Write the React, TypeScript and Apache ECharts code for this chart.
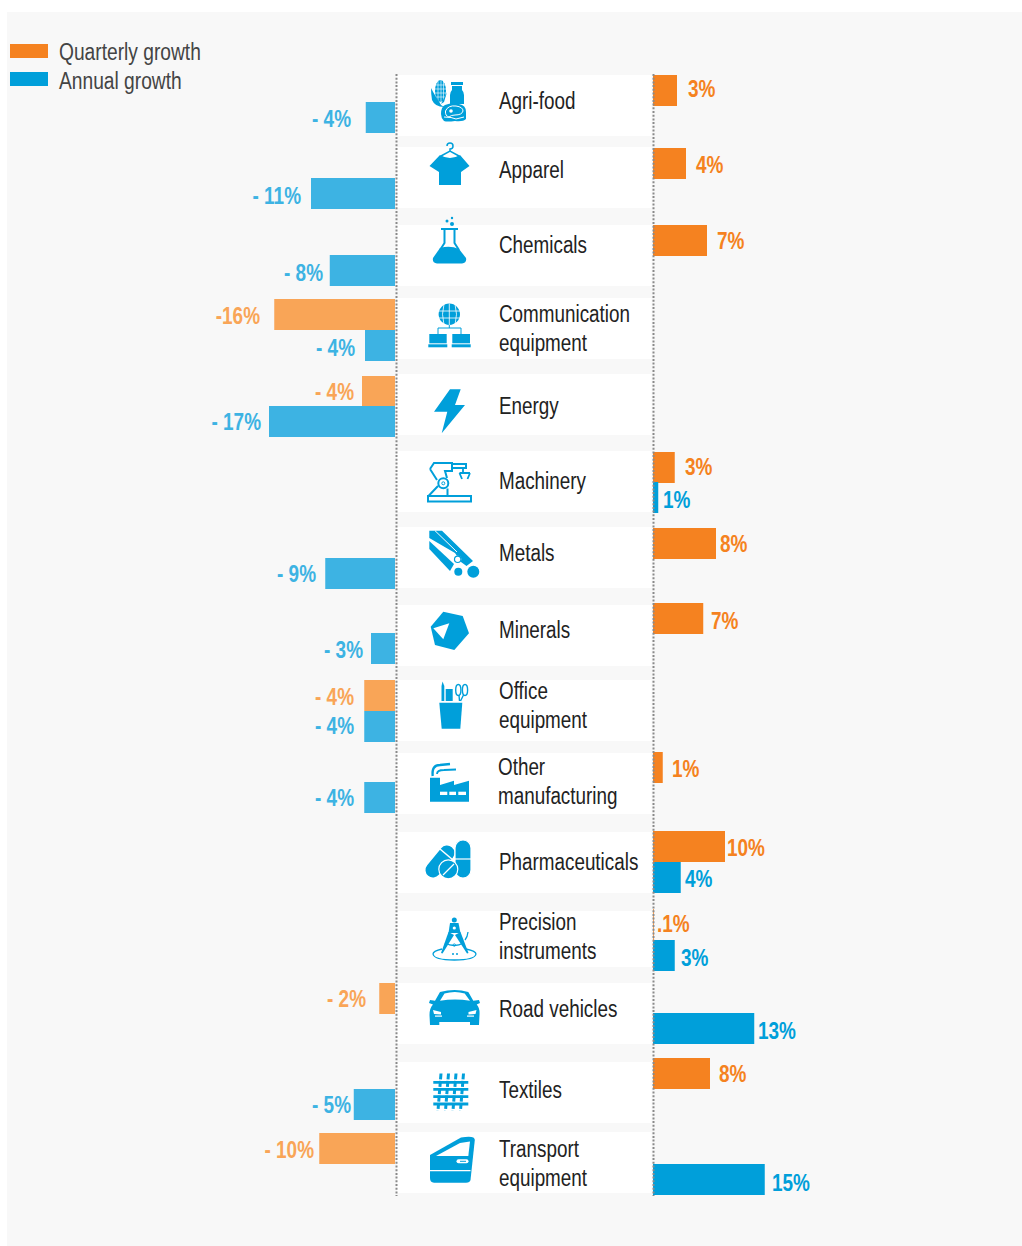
import React, { useEffect, useRef } from "react";
import * as echarts from "echarts";

// ---- data ----
const categories = [
  "Agri-food", "Apparel", "Chemicals", "Communication\nequipment", "Energy", "Machinery", "Metals", "Minerals",
  "Office\nequipment", "Other\nmanufacturing", "Pharmaceuticals", "Precision\ninstruments", "Road vehicles", "Textiles", "Transport\nequipment",
];
const quarterlyGrowth = [3.2, 4.4, 7.2, -16.1, -4.4, 2.9, 8.4, 6.7, -4.1, 1.3, 9.6, 0.1, -2.1, 7.6, -10.1];
const annualGrowth = [-3.9, -11.2, -8.7, -4, -16.8, 0.7, -9.3, -3.2, -4.1, -4.1, 3.7, 2.9, 13.5, -5.5, 14.9];
const quarterlyLabels = ["3%", "4%", "7%", "-16%", "- 4%", "3%", "8%", "7%", "- 4%", "1%", "10%", ".1%", "- 2%", "8%", "- 10%"];
const annualLabels = ["- 4%", "- 11%", "- 8%", "- 4%", "- 17%", "1%", "- 9%", "- 3%", "- 4%", "- 4%", "4%", "3%", "13%", "- 5%", "15%"];
const seriesNames = ["Quarterly growth", "Annual growth"];

// ---- layout (page pixels) ----
const rowTop = [75, 147, 225, 298, 374, 451, 527, 605, 680, 753, 832, 911, 983, 1062, 1132];
const rowHeight = [61, 61, 61, 61, 61, 61, 61, 61, 61, 61, 61, 56, 61, 61, 61];
const quarterlyBarTop = [75, 148, 225, 299, 376, 452, 528, 603, 680, 752, 831, 909, 983, 1058, 1133];
const annualBarTop = [102, 178, 255, 330, 406, 482, 558, 633, 711, 782, 862, 940, 1013, 1089, 1164];
const quarterlyLabelX = [688, 696, 717, 260, 354, 685, 720, 711, 354, 672, 727, 657, 366, 719, 314];
const quarterlyLabelY = [89, 165, 241, 316, 392, 467, 544, 621, 697, 769, 848, 924, 999, 1074, 1150];
const annualLabelX = [351, 301, 323, 355, 261, 663, 316, 363, 354, 354, 685, 681, 758, 351, 772];
const annualLabelY = [119, 196, 273, 348, 422, 500, 574, 650, 726, 798, 879, 958, 1031, 1105, 1183];
const categoryX = [499, 499, 499, 499, 499, 499, 499, 499, 499, 498, 499, 499, 499, 499, 499];
const categoryY = [101, 170, 245, 328, 406, 481, 553, 630, 705, 781, 862, 936, 1009, 1090, 1163];

const BAR_H = 31;
const ORANGE = "#F58220";
const BLUE = "#009FDA";
const ORANGE_L = "#F9A557";
const BLUE_L = "#3DB3E3";
const FONT = '"Liberation Sans", sans-serif';
const NARROW_SCALE = 0.82;
const LABEL_SCALE = 0.79;
const LEGEND_SCALE = 0.835;

// ---- icons ----
const circ = (cx: number, cy: number, r: number, ry: number = r) =>
  `M${cx - r} ${cy}A${r} ${ry} 0 1 0 ${cx + r} ${cy}A${r} ${ry} 0 1 0 ${cx - r} ${cy}Z`;
const rectP = (x: number, y: number, w: number, h: number) => `M${x} ${y}L${x + w} ${y}L${x + w} ${y + h}L${x} ${y + h}Z`;

type Part = [string, string, number?];
const icons: Part[][] = [
  // agri-food
  [
    [circ(440.5, 91, 5.5, 11), "b"],
    ["M436 85L445 85M435 89L446 89M435 93L446 93M436 97L445 97M438 81L438 102M441 80L441 102M443.5 81L443.5 102", "sw", 0.6],
    ["M431 88Q433 92 436 97Q439 101 441 105L444 107Q435 107 432 100Q431 94 431 88Z", "b"],
    ["M447 92L444 102L441 104Q445 96 447 92Z", "b"],
    [rectP(451, 82, 12, 3), "b"],
    ["M452 86L462 86L462 90Q464 92 464 95L464 104L450 104L450 95Q450 92 452 90Z", "b"],
    ["M445 105Q452 102 459 104Q466 105 466 112L466 119Q463 122 455 121Q447 122 444 121Q441 118 441 114Q441 107 445 105Z", "b"],
    ["M445.5 111Q448 105 456 106Q463 107 463 111Q462 115 455 115Q451 115 449 117Q445 116 445.5 111Z", "sw", 1],
    [circ(451, 111, 1.8), "w"],
    ["M444 117Q452 117 456 119L464 117", "sw", 1],
  ],
  // apparel
  [
    ["M440 155Q450 161 460 155L469.5 166L461 172L461 185L439 185L439 172L429.5 166Z", "b"],
    ["M447 146A3 3 0 1 1 450 149L450 151M441 156L450 151L459 156", "s", 1.5],
  ],
  // chemicals
  [
    [circ(447, 221, 1.5), "b"],
    [circ(452, 218, 1.2), "b"],
    [circ(452, 224, 2), "b"],
    ["M441 229L458 229", "s", 2],
    ["M444.5 229L444.5 243L440 250M454.5 229L454.5 243L459 250", "s", 2],
    ["M440 248Q450 245 459 249L466 258Q467 263 462 263.5L437 263.5Q432 263 433 258Z", "b"],
  ],
  // communication equipment
  [
    [circ(449.3, 314.3, 10.7), "b"],
    ["M438.6 311L460 311M438.6 318L460 318M449.3 303.6L449.3 325M444 304Q441 314 444 325M455 304Q458 314 455 325", "sw", 0.8],
    ["M449.3 325L449.3 328M438 334L438 328L461 328L461 334", "s", 1],
    [rectP(429.3, 334, 17.4, 9.3), "b"],
    [rectP(428.3, 344.3, 19, 3), "b"],
    [rectP(452.3, 334, 17.7, 9.3), "b"],
    [rectP(451.7, 344.3, 19, 3), "b"],
  ],
  // energy
  [["M450 389.3L460.7 389.3L455 405L465 405L441.7 433.3L447.3 411.7L434 411.7Z", "b"]],
  // machinery
  [
    [rectP(428, 496, 43, 5.5), "s", 2],
    ["M430 469L434 463L452 463L452 471L445 471L447 478M430 469L437 480", "s", 2],
    ["M452 464L466 464L466 468L452 468", "s", 2],
    [circ(443.3, 483.3, 5), "s", 2],
    [circ(443.3, 483.3, 1.5), "s", 1],
    ["M428.5 496L438 486M447.5 488.5L447.5 496", "s", 2],
    ["M463 468L463 472M459.5 473L470 473M459.5 473L462 479M470 473L467.5 479", "s", 1.8],
  ],
  // metals
  [
    ["M429.3 541L454 564L450 571L429.3 549Z", "b"],
    ["M429.3 530.7L442 530.7L473 561L466.5 566L461 562L455 553L429.3 538Z", "b"],
    ["M435 530.7L457 552", "sw", 1],
    [circ(473.3, 571.7, 6), "b"],
    [circ(458.3, 571.7, 4), "b"],
    [circ(457.7, 559.3, 3.6), "w"],
    [circ(457.7, 559.3, 3.2), "s", 1.2],
  ],
  // minerals
  [
    ["M443.3 611.7L462.7 616L469 633.3L454.3 650L435 645L430.7 626.7Z", "b"],
    ["M449.3 623.3L433.3 628.3L443.3 639.3Z", "w"],
  ],
  // office equipment
  [
    ["M439.3 702.7L462.3 702.7L460.3 728.7L441.7 728.7Z", "b"],
    ["M441.5 701L441.5 686L442.5 681.5L444.3 686L444.3 701Z", "b"],
    [rectP(445.7, 689, 7, 12), "b"],
    [circ(458.3, 690, 2.6, 5.5), "s", 1.4],
    [circ(465, 690, 2.6, 5.5), "s", 1.4],
    ["M459 695L459.5 701M463.5 695L460.5 701", "s", 1.4],
  ],
  // other manufacturing
  [
    ["M430 777.7L440 777.7L440 785L454 780.7L454 785L469 780.7L469 801.7L430 801.7Z", "b"],
    [rectP(440, 791.7, 7.3, 3.3), "w"],
    [rectP(449.3, 791.7, 6.7, 3.3), "w"],
    [rectP(458.3, 791.7, 7.7, 3.3), "w"],
    ["M432.7 776Q431.5 765 440 765L450 764", "s", 2.4],
    ["M437 774Q437 770 444 770L456 769.5", "s", 1.8],
  ],
  // pharmaceuticals
  [
    ["M447 853L433 870", "s2", 15],
    ["M440 849L453 860", "sw", 1.5],
    ["M455 848A8 8 0 0 1 471 848L471 870A8 8 0 0 1 455 870Z", "b"],
    ["M455 848A8 8 0 0 1 471 848L471 870A8 8 0 0 1 455 870Z", "sw", 1.2],
    ["M455 859L471 859", "sw", 1.2],
    [circ(448.3, 869.3, 9.5), "b"],
    [circ(448.3, 869.3, 9.5), "sw", 1.2],
    ["M443 875L454 864", "sw", 1.2],
  ],
  // precision instruments
  [
    [circ(454.3, 920, 2.5), "b"],
    ["M450 923L458.5 923L460.5 933L448.5 933Z", "b"],
    ["M448.5 932L454 935L442.5 953.5L441 953Z", "b"],
    ["M460.5 932L455 935L467 953.5L468.5 953Z", "b"],
    ["M445 943Q454.3 948 463.5 943", "s", 1.3],
    [circ(454.3, 928, 1.6), "w"],
    [circ(454.3, 945, 1.2), "s", 0.8],
    ["M468 932Q467.5 937 465 940", "s", 1.3],
    ["M442 949Q433 951 433 954Q434 960 454.3 960Q475 960 476 954Q476 951 466 949", "s", 1.3],
    ["M452 954L454 954M456 954L458 954", "s", 1.4],
  ],
  // road vehicles
  [
    ["M440 992Q455 988 468.3 992L473.3 1000.7L479 1000L480 1003L476.7 1004.5Q480 1008 479.5 1015L479 1025L470 1025L470 1022L439.3 1022L439.3 1025L430 1025L429.5 1015Q429.5 1008 433 1004.5L429 1003L430 1000L435 1000.7Z", "b"],
    ["M440 1000.7L444.5 993.5Q455 990.5 464.7 993.5L470 1000.7Q455 998.5 440 1000.7Z", "w"],
    ["M433 1010L441 1012L441 1014.5L434 1014Z", "w"],
    ["M476.5 1010L468.5 1012L468.5 1014.5L475.5 1014Z", "w"],
    [rectP(435, 1015.5, 7, 1.2), "w"],
    [rectP(467, 1015.5, 7, 1.2), "w"],
  ],
  // textiles
  [
    ["M433.3 1082.3L468.3 1082.3M433.3 1089.3L468.3 1089.3M433.3 1096.7L468.3 1096.7M433.3 1104L468.3 1104", "s", 2.8],
    ["M441 1073.5L438 1110.5M448.5 1073.5L445.5 1110.5M456 1073.5L453 1110.5M463.5 1073.5L460.5 1110.5", "d", 3],
  ],
  // transport equipment
  [
    ["M430 1155L461 1137.5Q475 1135 474.8 1140L470.5 1180Q470 1182.5 466 1182.7L434 1182.7Q430 1182.5 430 1178Z", "b"],
    ["M436 1156L460 1143L470 1141.5L468.3 1156Z", "w"],
    ["M458.5 1159.3L466.5 1159.3A2 2 0 0 1 466.5 1163.3L458.5 1163.3A2 2 0 0 1 458.5 1159.3Z", "w"],
    ["M460 1161.3L466 1161.3", "s", 1],
    ["M430 1170.7L470.5 1170.7", "sw", 1.2],
  ],
];

const iconElements: any[] = [];
icons.forEach((parts, i) => {
  parts.forEach((part, j) => {
    const [d, kind, lw] = part;
    const name = `icon_${i}_${j}`;
    echarts.graphic.registerShape(name, echarts.graphic.extendPath(d, {}) as any);
    const style: any =
      kind === "b"
        ? { fill: BLUE }
        : kind === "w"
        ? { fill: "#fff" }
        : kind === "sw"
        ? { fill: "none", stroke: "#fff", lineWidth: lw }
        : kind === "s2"
        ? { fill: "none", stroke: BLUE, lineWidth: lw, lineCap: "round" }
        : kind === "d"
        ? { fill: "none", stroke: BLUE, lineWidth: lw, lineDash: [6, 1.4] }
        : { fill: "none", stroke: BLUE, lineWidth: lw };
    iconElements.push({ type: name, z: 3, silent: true, style });
  });
});

// ---- helpers ----
function buildRows(values: number[], tops: number[], labels: string[], lx: number[], ly: number[], positive: boolean) {
  const out: any[] = [];
  values.forEach((v, i) => {
    if (v > 0 === positive) out.push([v, tops[i], labels[i], lx[i], ly[i]]);
  });
  return out;
}

const barRender = (color: string, align: string) => (_p: any, api: any) => {
  const v = api.value(0);
  const top = api.value(1);
  const a = api.coord([0, top]);
  const b = api.coord([v, top + BAR_H]);
  const x = Math.min(a[0], b[0]);
  return {
    type: "group",
    children: [
      { type: "rect", shape: { x, y: a[1], width: Math.abs(b[0] - a[0]), height: b[1] - a[1] }, style: { fill: color } },
      {
        type: "text",
        x: api.value(3),
        y: api.value(4),
        scaleX: LABEL_SCALE,
        style: { text: api.value(2), fill: color, align, verticalAlign: "middle", font: `bold 24px ${FONT}` },
      },
    ],
  };
};

function makeSeries(name: string, color: string, axis: number, data: any[], align: string) {
  return {
    name,
    type: "custom",
    xAxisIndex: axis,
    yAxisIndex: axis,
    clip: false,
    silent: true,
    encode: { x: 0, y: 1 },
    dimensions: [
      { name: "value", type: "number" },
      { name: "top", type: "number" },
      { name: "label", type: "ordinal" },
      { name: "lx", type: "number" },
      { name: "ly", type: "number" },
    ],
    itemStyle: { color },
    renderItem: barRender(color, align),
    data,
  };
}

export default function App() {
  const ref = useRef<HTMLDivElement | null>(null);
  useEffect(() => {
    document.body.style.margin = "0";
    const chart = echarts.init(ref.current as HTMLDivElement, undefined, { renderer: "svg" });
    const rowRects = rowTop.map((t, i) => ({
      type: "rect",
      z: 1,
      silent: true,
      shape: { x: 397, y: t, width: 254.5, height: rowHeight[i] },
      style: { fill: "#fff" },
    }));
    const catTexts = categories.map((c, i) => ({
      type: "text",
      z: 3,
      silent: true,
      x: categoryX[i],
      y: categoryY[i],
      scaleX: NARROW_SCALE,
      style: { text: c, fill: "#222", font: `23px ${FONT}`, lineHeight: 29, align: "left", verticalAlign: "middle" },
    }));
    const legendTexts = seriesNames.map((s, i) => ({
      type: "text",
      z: 3,
      silent: true,
      x: 59,
      y: 52 + i * 29,
      scaleX: LEGEND_SCALE,
      style: { text: s, fill: "#444", font: `23px ${FONT}`, align: "left", verticalAlign: "middle" },
    }));
    const dots = [396.5, 653.5].map((x) => ({
      type: "line",
      z: 10,
      silent: true,
      shape: { x1: x, y1: 74, x2: x, y2: 1196 },
      style: { stroke: "#8a8a8a", lineWidth: 2, lineDash: [2, 1.7] },
    }));
    chart.setOption({
      animation: false,
      grid: [
        { left: 245, width: 150, top: 0, height: 1246 },
        { left: 653, width: 150, top: 0, height: 1246 },
      ],
      xAxis: [
        { type: "value", gridIndex: 0, min: -20, max: 0, show: false },
        { type: "value", gridIndex: 1, min: 0, max: 20, show: false },
      ],
      yAxis: [
        { type: "value", gridIndex: 0, min: 0, max: 1246, inverse: true, show: false },
        { type: "value", gridIndex: 1, min: 0, max: 1246, inverse: true, show: false },
      ],
      legend: {
        orient: "vertical",
        left: 10,
        top: 44,
        padding: 0,
        itemWidth: 38,
        itemHeight: 14,
        itemGap: 14,
        selectedMode: false,
        icon: "rect",
        formatter: () => " ",
        textStyle: { fontSize: 8, lineHeight: 8 },
        data: [
          { name: seriesNames[0], itemStyle: { color: ORANGE } },
          { name: seriesNames[1], itemStyle: { color: BLUE } },
        ],
      },
      graphic: {
        elements: [
          { type: "rect", z: 0, silent: true, shape: { x: 7, y: 12, width: 1015, height: 1234 }, style: { fill: "#F8F8F8" } },
          ...rowRects,
          ...catTexts,
          ...legendTexts,
          ...iconElements,
          ...dots,
        ],
      },
      series: [
        makeSeries(seriesNames[0], ORANGE, 1, buildRows(quarterlyGrowth, quarterlyBarTop, quarterlyLabels, quarterlyLabelX, quarterlyLabelY, true), "left"),
        makeSeries(seriesNames[1], BLUE, 1, buildRows(annualGrowth, annualBarTop, annualLabels, annualLabelX, annualLabelY, true), "left"),
        makeSeries(seriesNames[0], ORANGE_L, 0, buildRows(quarterlyGrowth, quarterlyBarTop, quarterlyLabels, quarterlyLabelX, quarterlyLabelY, false), "right"),
        makeSeries(seriesNames[1], BLUE_L, 0, buildRows(annualGrowth, annualBarTop, annualLabels, annualLabelX, annualLabelY, false), "right"),
      ],
    });
    return () => chart.dispose();
  }, []);
  return <div ref={ref} style={{ position: "absolute", left: 0, top: 0, width: 1022, height: 1246 }} />;
}
